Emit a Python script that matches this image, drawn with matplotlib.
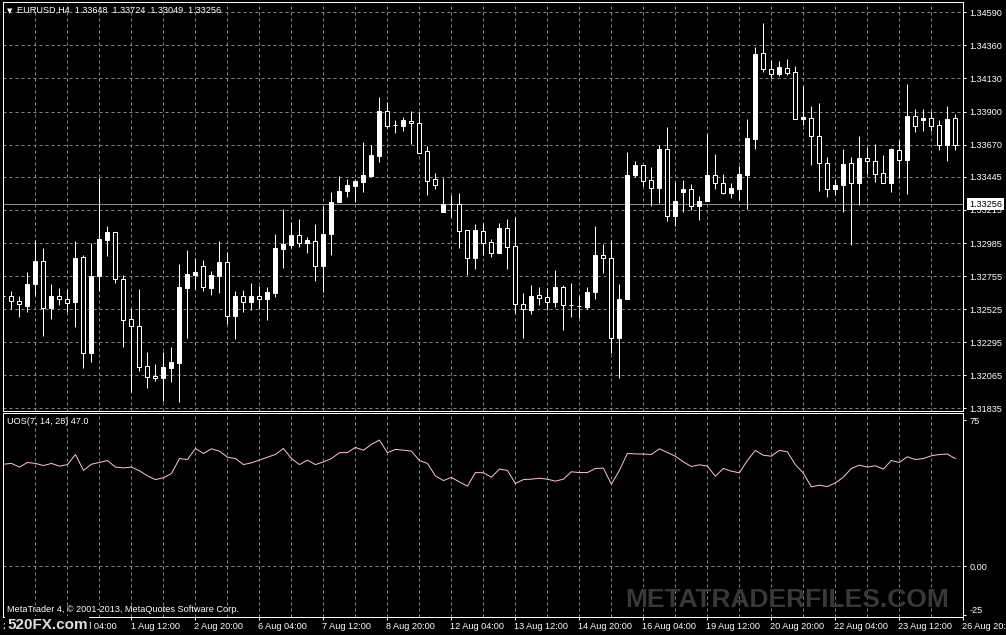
import matplotlib
matplotlib.use("Agg")
import matplotlib.pyplot as plt

# EURUSD H4 bars, index 0 = 29 Jul 20:00 ... 119 = 26 Aug 16:00
opens = [1.32616, 1.32616, 1.32580, 1.32549, 1.32702, 1.32860, 1.32535, 1.32616, 1.32593, 1.32577,
         1.32888, 1.32222, 1.32756, 1.33006, 1.33062, 1.32733, 1.32454, 1.32408, 1.32127, 1.32060,
         1.32048, 1.32118, 1.32152, 1.32674, 1.32763, 1.32823, 1.32674, 1.32758, 1.32853, 1.32475,
         1.32614, 1.32573, 1.32614, 1.32598, 1.32639, 1.32946, 1.32971, 1.33039, 1.32987, 1.33001,
         1.32825, 1.33050, 1.33270, 1.33347, 1.33382, 1.33412, 1.33451, 1.33590, 1.33903, 1.33806,
         1.33801, 1.33832, 1.33818, 1.33625, 1.33430, 1.33203, 1.33254, 1.33254, 1.33073, 1.32883,
         1.33067, 1.32990, 1.32918, 1.33087, 1.32962, 1.32559, 1.32521, 1.32621, 1.32607, 1.32577,
         1.32677, 1.32556, 1.32549, 1.32542, 1.32646, 1.32900, 1.32879, 1.32326, 1.32596, 1.33458,
         1.33526, 1.33421, 1.33370, 1.33637, 1.33175, 1.33342, 1.33359, 1.33245, 1.33277, 1.33456,
         1.33400, 1.33335, 1.33363, 1.33460, 1.33711, 1.34305, 1.34196, 1.34161, 1.34203, 1.34175,
         1.33848, 1.33855, 1.33730, 1.33544, 1.33363, 1.33389, 1.33542, 1.33405, 1.33574, 1.33556,
         1.33470, 1.33405, 1.33632, 1.33563, 1.33869, 1.33841, 1.33853, 1.33804, 1.33669, 1.33853]
highs = [1.32716, 1.32651, 1.32616, 1.32783, 1.33006, 1.32950, 1.32700, 1.32672, 1.32665, 1.32999,
         1.32900, 1.32983, 1.33439, 1.33103, 1.33062, 1.32760, 1.32524, 1.32665, 1.32227, 1.32143,
         1.32227, 1.32262, 1.32839, 1.32936, 1.32879, 1.32867, 1.32790, 1.32999, 1.32923, 1.32651,
         1.32658, 1.32705, 1.32686, 1.32677, 1.33048, 1.33220, 1.33131, 1.33150, 1.33025, 1.33117,
         1.33243, 1.33340, 1.33451, 1.33430, 1.33430, 1.33688, 1.33669, 1.34001, 1.33966, 1.33841,
         1.33862, 1.33903, 1.33896, 1.33660, 1.33472, 1.33437, 1.33321, 1.33333, 1.33073, 1.33117,
         1.33124, 1.33013, 1.33124, 1.33152, 1.33164, 1.32637, 1.32693, 1.32677, 1.32670, 1.32797,
         1.32691, 1.32707, 1.32614, 1.32679, 1.33103, 1.32976, 1.33004, 1.32700, 1.33618, 1.33556,
         1.33526, 1.33514, 1.33667, 1.33792, 1.33410, 1.33423, 1.33396, 1.33312, 1.33743, 1.33604,
         1.33465, 1.33405, 1.33521, 1.33848, 1.34349, 1.34516, 1.34256, 1.34251, 1.34265, 1.34217,
         1.34077, 1.33938, 1.33959, 1.33583, 1.33432, 1.33641, 1.33583, 1.33730, 1.33655, 1.33674,
         1.33597, 1.33644, 1.33702, 1.34091, 1.33917, 1.33917, 1.33905, 1.33841, 1.33938, 1.33883]
lows = [1.32526, 1.32526, 1.32472, 1.32503, 1.32625, 1.32340, 1.32459, 1.32556, 1.32507, 1.32403,
        1.32118, 1.32157, 1.32651, 1.32895, 1.32709, 1.32264, 1.31951, 1.32097, 1.31976, 1.32027,
        1.31888, 1.32020, 1.31881, 1.32326, 1.32663, 1.32653, 1.32625, 1.32639, 1.32424, 1.32319,
        1.32507, 1.32519, 1.32528, 1.32452, 1.32607, 1.32813, 1.32952, 1.32959, 1.32918, 1.32723,
        1.32644, 1.32904, 1.33270, 1.33307, 1.33270, 1.33342, 1.33451, 1.33551, 1.33785, 1.33752,
        1.33766, 1.33674, 1.33613, 1.33321, 1.33363, 1.33203, 1.33168, 1.32952, 1.32763, 1.32806,
        1.32902, 1.32890, 1.32918, 1.32806, 1.32500, 1.32326, 1.32493, 1.32556, 1.32521, 1.32542,
        1.32382, 1.32472, 1.32465, 1.32524, 1.32598, 1.32779, 1.32222, 1.32048, 1.32596, 1.33442,
        1.33384, 1.33243, 1.33265, 1.33140, 1.33103, 1.33203, 1.33215, 1.33147, 1.33277, 1.33363,
        1.33326, 1.33300, 1.33284, 1.33224, 1.33641, 1.34173, 1.34135, 1.34147, 1.34154, 1.33850,
        1.33806, 1.33528, 1.33349, 1.33307, 1.33317, 1.33203, 1.32973, 1.33252, 1.33467, 1.33412,
        1.33405, 1.33342, 1.33435, 1.33326, 1.33759, 1.33766, 1.33766, 1.33634, 1.33558, 1.33634]
closes = [1.32616, 1.32580, 1.32559, 1.32700, 1.32860, 1.32535, 1.32616, 1.32593, 1.32570, 1.32881,
          1.32222, 1.32756, 1.33013, 1.33062, 1.32733, 1.32452, 1.32410, 1.32125, 1.32055, 1.32048,
          1.32122, 1.32157, 1.32679, 1.32767, 1.32783, 1.32677, 1.32760, 1.32853, 1.32475, 1.32616,
          1.32573, 1.32614, 1.32598, 1.32642, 1.32948, 1.32978, 1.33039, 1.32987, 1.33006, 1.32827,
          1.33048, 1.33270, 1.33347, 1.33389, 1.33419, 1.33458, 1.33597, 1.33903, 1.33801, 1.33806,
          1.33841, 1.33818, 1.33613, 1.33419, 1.33391, 1.33254, 1.33254, 1.33071, 1.32883, 1.33076,
          1.32987, 1.32918, 1.33089, 1.32959, 1.32559, 1.32524, 1.32614, 1.32605, 1.32577, 1.32679,
          1.32556, 1.32556, 1.32549, 1.32644, 1.32902, 1.32879, 1.32322, 1.32596, 1.33458, 1.33528,
          1.33419, 1.33370, 1.33639, 1.33175, 1.33277, 1.33361, 1.33245, 1.33277, 1.33458, 1.33400,
          1.33335, 1.33366, 1.33465, 1.33716, 1.34300, 1.34198, 1.34163, 1.34210, 1.34170, 1.33850,
          1.33862, 1.33732, 1.33544, 1.33363, 1.33391, 1.33535, 1.33405, 1.33576, 1.33558, 1.33467,
          1.33405, 1.33637, 1.33565, 1.33869, 1.33797, 1.33853, 1.33801, 1.33669, 1.33846, 1.33665]

# Ultimate Oscillator (7, 14, 28)
uos = [52.3, 52.7, 50.8, 53.2, 52.7, 51.6, 52.7, 51.3, 52.1, 57.3,
       49.1, 52.3, 53.2, 54.2, 50.8, 50.4, 50.8, 48.9, 46.3, 44.4,
       45.3, 47.5, 55.2, 54.7, 60.4, 57.8, 60.2, 59.0, 55.9, 55.2,
       52.1, 53.0, 54.4, 55.9, 57.3, 60.4, 55.2, 52.1, 54.4, 52.1,
       53.5, 55.2, 58.2, 58.3, 60.9, 59.5, 62.5, 64.7, 58.2, 59.9,
       59.5, 59.0, 54.2, 52.7, 46.3, 43.9, 45.5, 43.2, 41.0, 48.0,
       47.9, 45.6, 49.8, 49.1, 42.4, 44.4, 44.6, 45.1, 44.6, 43.6,
       44.6, 48.4, 48.0, 48.0, 50.1, 50.3, 42.0, 49.1, 57.8, 57.6,
       57.5, 57.3, 60.2, 58.3, 56.4, 53.5, 51.1, 52.0, 51.3, 46.1,
       50.1, 48.7, 47.9, 54.2, 59.4, 56.9, 56.4, 59.4, 58.7, 52.1,
       47.7, 40.7, 41.5, 40.8, 42.7, 45.6, 50.1, 51.8, 50.8, 51.5,
       49.8, 54.2, 53.2, 56.1, 54.7, 55.2, 56.6, 57.3, 57.5, 55.2]
uos_now = 47.0
header_ohlc = [1.33648, 1.33724, 1.33049, 1.33256]

price_ticks = [1.34590, 1.34360, 1.34130, 1.33900, 1.33670, 1.33445, 1.33215,
               1.32985, 1.32755, 1.32525, 1.32295, 1.32065, 1.31835]
uos_ticks = [75, 0, -25]
uos_tick_labels = ['75', '0.00', '-25']
time_labels = ['29 Jul 20:00', '31 Jul 04:00', '1 Aug 12:00', '2 Aug 20:00',
               '6 Aug 04:00', '7 Aug 12:00', '8 Aug 20:00', '12 Aug 04:00',
               '13 Aug 12:00', '14 Aug 20:00', '16 Aug 04:00', '19 Aug 12:00',
               '20 Aug 20:00', '22 Aug 04:00', '23 Aug 12:00', '26 Aug 20:00']

plt.rcParams['font.family'] = ['Liberation Sans', 'DejaVu Sans']

W, H = 1006, 635
PX = 0.72  # one pixel in points
GRID = '#858585'
FS = 6.6

fig = plt.figure(figsize=(W / 100, H / 100), dpi=100, facecolor='black')


def box(l, t, r, b):
    return [l / W, 1 - b / H, (r - l) / W, (b - t) / H]


ax = fig.add_axes(box(2.5, 2.3, 963.3, 410.7))
ax2 = fig.add_axes(box(2.5, 413, 963.3, 617))

n = len(opens)
xs = list(range(n))

for a in (ax, ax2):
    a.set_facecolor('black')
    a.set_xlim(-0.125, 120.0)
    for s in a.spines.values():
        s.set_color('white')
        s.set_linewidth(PX)
    a.set_xticks(range(8, 121, 8))
    a.set_xticks(range(4, 120, 8), minor=True)
    a.grid(True, axis='x', which='both', color=GRID, ls=(0, (3, 3)), lw=PX)
    a.set_axisbelow(True)
    a.yaxis.tick_right()
    a.tick_params(axis='y', colors='white', length=2.2, width=PX, labelsize=FS, pad=2)
    a.tick_params(axis='x', which='minor', length=0)
    a.tick_params(axis='x', labelbottom=False)

# price panel
ax.set_ylim(1.31818, 1.34660)
ax.set_yticks(price_ticks, [f'{p:.5f}' for p in price_ticks])
ax.grid(True, axis='y', color=GRID, ls=(0, (3, 3)), lw=PX)
ax.tick_params(axis='x', length=0)

ax.axhline(header_ohlc[3], color='#8c8c8c', lw=PX, zorder=1.5)
ax.vlines(xs, lows, highs, color='white', lw=PX, zorder=2)
bottoms = [min(o, c) for o, c in zip(opens, closes)]
heights = [abs(c - o) for o, c in zip(opens, closes)]
fills = ['white' if c >= o else 'black' for o, c in zip(opens, closes)]
ax.bar(xs, heights, bottom=bottoms, width=0.5, color=fills,
       edgecolor='white', linewidth=PX, zorder=3)

ax.annotate(f'{header_ohlc[3]:.5f}', xy=(1, header_ohlc[3]),
            xycoords=('axes fraction', 'data'), xytext=(4, 0),
            textcoords='offset points', ha='left', va='center',
            fontsize=FS, color='black', annotation_clip=False, zorder=10,
            bbox=dict(boxstyle='square,pad=0.2', fc='white', ec='none'))

# oscillator panel
ax2.set_ylim(-26.2, 78.6)
ax2.set_yticks(uos_ticks, uos_tick_labels)
ax2.get_yticklabels()[2].set_va('bottom')
ax2.axhline(0, color=GRID, ls=(0, (3, 3)), lw=PX, zorder=1)
ax2.plot(xs, uos, color='#ffc0cb', lw=PX, zorder=3)
ax2.tick_params(axis='x', which='major', colors='white', length=2.2,
                width=PX, direction='out')

for i, lab in enumerate(time_labels):
    ax2.annotate(lab, xy=(i * 8, 0), xycoords=('data', 'axes fraction'),
                 xytext=(-0.7, -6.5), textcoords='offset points',
                 ha='left', va='center', fontsize=FS, color='white',
                 annotation_clip=False)

# texts
fig.text(9.5 / W, 1 - 11 / H, '\u25bc', fontsize=5, color='white',
         ha='center', va='center', family='DejaVu Sans')
fig.text(17 / W, 1 - 10.7 / H,
         'EURUSD,H4  ' + '  '.join(f'{v:.5f}' for v in header_ohlc),
         fontsize=FS, color='white', ha='left', va='center')
fig.text(6.7 / W, 1 - 421.7 / H, f'UOS(7, 14, 28) {uos_now:.1f}',
         fontsize=FS, color='white', ha='left', va='center')
fig.text(6.7 / W, 1 - 609.3 / H,
         'MetaTrader 4, \u00a9 2001-2013, MetaQuotes Software Corp.',
         fontsize=FS, color='white', ha='left', va='center')
fig.text(625 / W, 1 - 600 / H, 'METATRADERFILES.COM', fontsize=19,
         fontweight='bold', color='#383838', ha='left', va='center')
fig.text(7 / W, 1 - 625 / H, '520FX.com', fontsize=11, fontweight='bold',
         color='#e0e0e0', ha='left', va='center', zorder=20,
         bbox=dict(boxstyle='square,pad=0.1', fc='black', ec='none'))

fig.savefig('out.png', dpi=100, facecolor='black')
